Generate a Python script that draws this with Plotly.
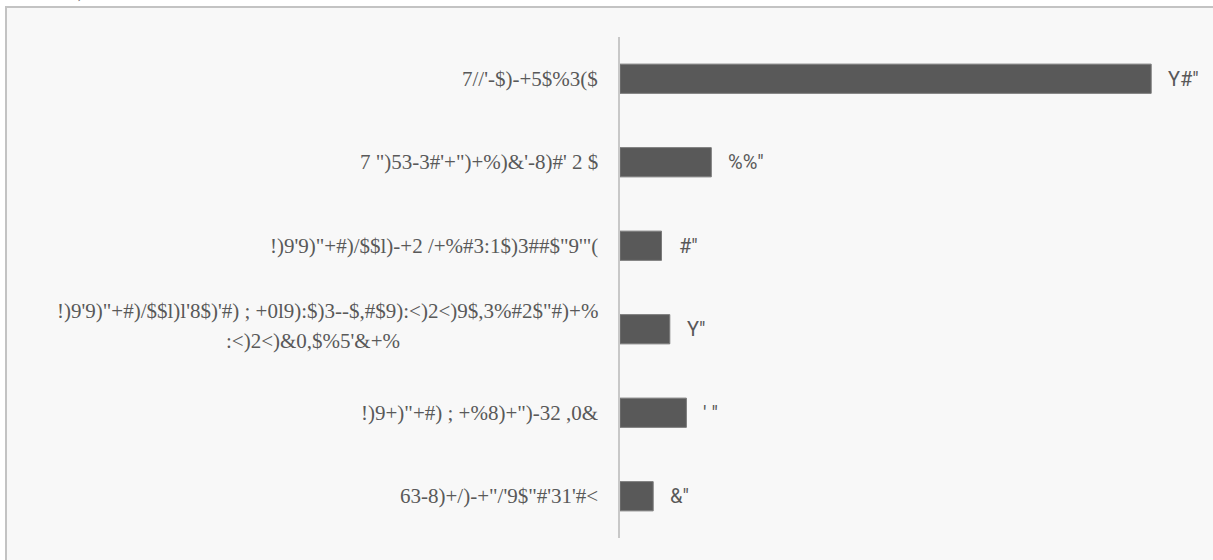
import plotly.graph_objects as go

categories = [
    "7//'-$)-+5$%3($",
    "7 \")53-3#'+\")+%)&'-8)#' 2 $",
    "!)9'9)\"+#)/$$l)-+2 /+%#3:1$)3##$\"9'\"(",
    "!)9'9)\"+#)/$$l)l'8$)'#) ; +0l9):$)3--$,#$9):<)2<)9$,3%#2$\"#)+%",
    "!)9+)\"+#) ; +%8)+\")-32 ,0&",
    "63-8)+/)-+\"/'9$\"#'31'#<",
]
category_second_lines = ["", "", "", ":<)2<)&0,$%5'&+%", "", ""]
values = [64, 11, 5, 6, 8, 4]
value_labels = ["Y#\"", "%%\"", "#\"", "Y\"", "' \"", "&\""]

W, H = 1213, 560
ML, MR, MT, MB = 620, 13, 37, 22
PW = W - ML - MR
PH = H - MT - MB
px_per_unit = 8.3
CAT_FONT = dict(family="Liberation Serif", size=21, color="#595959")

def px2paper_x(px):
    return (px - ML) / PW

def px2paper_y(py):
    return (H - MB - py) / PH

fig = go.Figure()
fig.add_trace(go.Bar(
    y=categories, x=values, orientation="h", width=0.35,
    marker=dict(color="#595959", line=dict(color="#7a7a7a", width=1)),
    hoverinfo="skip",
))

annotations = []
for cat, val, lab, l2 in zip(categories, values, value_labels, category_second_lines):
    annotations.append(dict(
        x=val, y=cat, xref="x", yref="y", text=lab, showarrow=False,
        xanchor="left", yanchor="middle", xshift=15,
        font=dict(family="Roboto", size=20, color="#595959"),
    ))
    if l2:
        annotations.append(dict(
            x=0, y=cat, xref="paper", yref="y", text=cat, showarrow=False,
            xanchor="right", yanchor="middle", xshift=-20, yshift=18,
            font=CAT_FONT,
        ))
        annotations.append(dict(
            x=px2paper_x(313), y=cat, xref="paper", yref="y", text=l2, showarrow=False,
            xanchor="center", yanchor="middle", yshift=-12,
            font=CAT_FONT,
        ))
    else:
        annotations.append(dict(
            x=0, y=cat, xref="paper", yref="y", text=cat, showarrow=False,
            xanchor="right", yanchor="middle", xshift=-20,
            font=CAT_FONT,
        ))

annotations.append(dict(
    x=px2paper_x(80), y=px2paper_y(4), xref="paper", yref="paper", text=")",
    showarrow=False, xanchor="center", yanchor="bottom",
    font=dict(family="Liberation Serif", size=14, color="#595959"),
))

shapes = [
    dict(type="rect", xref="paper", yref="paper", layer="below",
         x0=px2paper_x(5), x1=px2paper_x(W + 20), y0=px2paper_y(7), y1=px2paper_y(H + 20),
         fillcolor="#f8f8f8", line=dict(width=0)),
    dict(type="line", xref="paper", yref="paper",
         x0=px2paper_x(5), x1=px2paper_x(W + 20), y0=px2paper_y(7), y1=px2paper_y(7),
         line=dict(color="#c3c3c3", width=2)),
    dict(type="line", xref="paper", yref="paper",
         x0=px2paper_x(6), x1=px2paper_x(6), y0=px2paper_y(7), y1=px2paper_y(H + 20),
         line=dict(color="#c3c3c3", width=2)),
]

fig.update_layout(
    width=W, height=H,
    margin=dict(l=ML, r=MR, t=MT, b=MB),
    paper_bgcolor="white", plot_bgcolor="rgba(0,0,0,0)",
    showlegend=False,
    xaxis=dict(range=[0, PW / px_per_unit], visible=False, fixedrange=True),
    yaxis=dict(categoryorder="array", categoryarray=categories[::-1],
               showticklabels=False, ticks="", showgrid=False, zeroline=False,
               showline=True, linecolor="#c8c8c8", linewidth=2, fixedrange=True),
    annotations=annotations, shapes=shapes,
)

fig.write_html("out.html", config={"displayModeBar": False},
               post_script="document.body.style.margin='0';")
